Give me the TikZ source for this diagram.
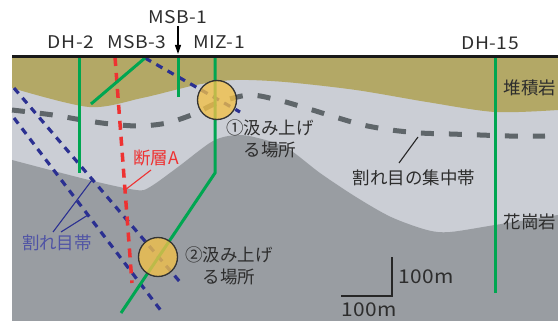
\documentclass[tikz,border=0pt]{standalone}
\usepackage{fontspec}
\setmainfont{Noto Sans CJK JP}
\newfontfamily\widelatin[FakeStretch=1.1,LetterSpace=3]{Noto Sans CJK JP}
\usetikzlibrary{arrows.meta}

\definecolor{sediment}{RGB}{179,168,102}
\definecolor{fracture}{RGB}{203,206,213}
\definecolor{granite}{RGB}{153,157,162}
\definecolor{borehole}{RGB}{0,166,81}
\definecolor{faultred}{RGB}{238,50,50}
\definecolor{jointblue}{RGB}{43,48,145}
\definecolor{jointtext}{RGB}{80,84,165}
\definecolor{zonegray}{RGB}{95,102,106}
\definecolor{pumpfill}{RGB}{242,192,72}
\definecolor{inktext}{RGB}{45,45,45}

\tikzset{
  hole/.style={draw=borehole, line width=3pt},
  joint/.style={draw=jointblue, line width=3.2pt, dash pattern=on 7pt off 6pt},
  fault/.style={draw=faultred, line width=3.5pt, dash pattern=on 9pt off 7pt},
  zone/.style={draw=zonegray, line width=5pt, dash pattern=on 13pt off 15pt},
  pump/.style={circle, draw=black!80, line width=1.3pt, fill=pumpfill,
               fill opacity=0.78, draw opacity=1, minimum size=39pt, inner sep=0pt},
  wellname/.style={font=\widelatin\fontsize{17.5}{20}\selectfont, text=inktext, inner sep=0pt},
  scalelabel/.style={font=\widelatin\fontsize{19}{20}\selectfont, text=inktext, inner sep=0pt},
  jlabel/.style={font=\fontsize{17.5}{22}\selectfont, text=inktext, inner sep=0pt, align=center},
}

\begin{document}
\begin{tikzpicture}[x=1pt,y=-1pt]
\useasboundingbox (0,0) rectangle (558,321);

% rock layers
\fill[fracture] (12,57) rectangle (558,321);
\fill[sediment] (12,57) -- (558,57) -- (558,110)
  -- plot[smooth] coordinates {(558,110) (495,112) (427,102) (356,90) (285,82)
     (235,80) (196,85) (142,98) (89,107) (12,88)} -- cycle;
\fill[granite] plot[smooth] coordinates {(12,160) (89,180) (136,190) (150,187)
     (178,167) (213,141) (237,135) (258,138) (287,148) (320,173) (356,197)
     (391,217) (427,230) (450,232) (495,225) (558,215)}
  -- (558,321) -- (12,321) -- cycle;

% fracture concentration zone
\draw[zone] plot[smooth] coordinates {(12,110) (53,115) (82,120) (110,124)
   (139,126) (167,123) (194,114) (217,103) (249,95) (278,100) (306,108)
   (335,117) (363,125) (391,130) (420,133) (450,134) (480,135) (509,136) (545,136)};

% fracture zones
\draw[joint] (145,58) -- (240,112);
\draw[joint] (14,88) -- (180,282);
\draw[joint] (14,118) -- (162,312);

% fault A
\draw[fault] (115,57) -- (132,283);

% boreholes
\draw[hole] (79,57) -- (79,173);
\draw[hole] (145,58) -- (91,104);
\draw[hole] (178,57) -- (178,97);
\draw[hole] (215,57) -- (215,173) -- (121,313);
\draw[hole] (495,57) -- (495,293);

% pumping points
\node[pump] (p1) at (217,100) {};
\node[pump] (p2) at (158,257) {};

% ground surface
\draw[line width=3pt, black!90] (12,57) -- (558,57);

% borehole names
\node[wellname] (dh2)  at (71,42)  {DH-2};
\node[wellname] (msb3) at (137,42) {MSB-3};
\node[wellname] (msb1) at (178,17) {MSB-1};
\node[wellname] (miz1) at (219,42) {MIZ-1};
\node[wellname] (dh15) at (490,43) {DH-15};
\coordinate (msb1top) at (178,54);
\draw[line width=1.2pt, -{Triangle[length=9pt,width=6pt]}] (msb1.south) ++(0,2) -- (msb1top);

% rock names
\node[jlabel] (sed) at (530,88)  {堆積岩};
\node[jlabel] (gra) at (530,222) {花崗岩};

% pumping point labels
\node[jlabel] (l1) at (270,139) {①汲み上げ\\る場所};
\node[jlabel] (l2) at (229,266) {②汲み上げ\\る場所};

% fault label
\node[jlabel, text=faultred] (fa) at (156,158) {断層A};
\coordinate (faend) at (125,190);
\coordinate (fastart) at (151,170);
\draw[faultred, line width=1.1pt] (fastart) -- (faend);

% fracture zone label
\node[jlabel, text=jointtext] (jz) at (57,243) {割れ目帯};
\coordinate (jza) at (92,180);
\coordinate (jzb) at (88,215);
\coordinate (jzs1) at (53,232);
\coordinate (jzs2) at (61,232);
\draw[jointblue, line width=1.1pt] (jzs1) -- (jza);
\draw[jointblue, line width=1.1pt] (jzs2) -- (jzb);

% concentration zone label
\node[jlabel] (cz) at (414,178) {割れ目の集中帯};
\coordinate (czline) at (418,137);
\coordinate (cztop) at (399,163);
\draw[black!85, line width=1.1pt] (czline) -- (cztop);

% scale bar
\coordinate (sbtop) at (392,257);
\coordinate (sbcorner) at (392,296);
\coordinate (sbleft) at (341,296);
\draw[black!85, line width=1.8pt] (sbtop) -- (sbcorner) -- (sbleft);
\node[scalelabel] (sv) at (426,277) {100m};
\node[scalelabel] (sh) at (369,310) {100m};
\end{tikzpicture}
\end{document}
